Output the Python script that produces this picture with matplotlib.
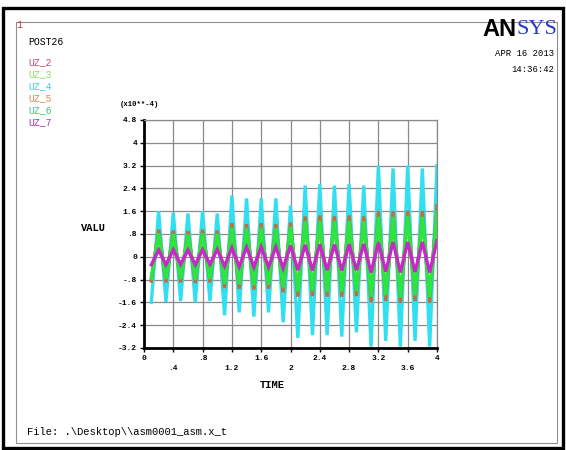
import matplotlib
matplotlib.use('Agg')
import matplotlib.pyplot as plt
from matplotlib.patches import Rectangle

# sample times (s)
time = [0.1, 0.2, 0.3, 0.4, 0.5, 0.6, 0.7, 0.8, 0.9, 1.0,
        1.1, 1.2, 1.3, 1.4, 1.5, 1.6, 1.7, 1.8, 1.9, 2.0,
        2.1, 2.2, 2.3, 2.4, 2.5, 2.6, 2.7, 2.8, 2.9, 3.0,
        3.1, 3.2, 3.3, 3.4, 3.5, 3.6, 3.7, 3.8, 3.9, 4.0]

# displacements, units of 1e-4
uz_2 = [-0.82, 0.92, -0.87, 0.89, -0.87, 0.87, -0.89, 0.92, -0.87, 0.89,
        -1.07, 1.14, -1.09, 1.12, -1.12, 1.14, -1.09, 1.12, -1.21, 1.16,
        -1.36, 1.38, -1.34, 1.41, -1.36, 1.38, -1.36, 1.41, -1.34, 1.38,
        -1.55, 1.55, -1.50, 1.55, -1.57, 1.57, -1.50, 1.55, -1.57, 1.75]
uz_3 = [-0.70, 0.76, -0.72, 0.74, -0.72, 0.72, -0.74, 0.76, -0.72, 0.74,
        -0.88, 0.94, -0.90, 0.92, -0.92, 0.94, -0.90, 0.92, -1.00, 0.97,
        -1.12, 1.15, -1.10, 1.16, -1.12, 1.15, -1.12, 1.16, -1.10, 1.15,
        -1.29, 1.29, -1.24, 1.29, -1.31, 1.31, -1.24, 1.29, -1.31, 1.45]
uz_4 = [-1.60, 1.60, -1.58, 1.55, -1.55, 1.52, -1.60, 1.60, -1.55, 1.52,
        -2.05, 2.15, -1.95, 2.05, -2.10, 2.05, -1.95, 2.05, -2.30, 1.80,
        -2.85, 2.50, -2.75, 2.55, -2.75, 2.50, -2.80, 2.55, -2.65, 2.50,
        -3.15, 3.20, -2.95, 3.10, -3.15, 3.20, -2.95, 3.10, -3.15, 3.20]
uz_5 = [-0.85, 0.95, -0.90, 0.92, -0.90, 0.90, -0.92, 0.95, -0.90, 0.92,
        -1.10, 1.18, -1.12, 1.15, -1.15, 1.18, -1.12, 1.15, -1.25, 1.20,
        -1.40, 1.42, -1.38, 1.45, -1.40, 1.42, -1.40, 1.45, -1.38, 1.42,
        -1.60, 1.60, -1.55, 1.60, -1.62, 1.62, -1.55, 1.60, -1.62, 1.80]
uz_6 = [-0.75, 0.82, -0.78, 0.80, -0.78, 0.78, -0.80, 0.82, -0.78, 0.80,
        -0.95, 1.02, -0.97, 1.00, -1.00, 1.02, -0.97, 1.00, -1.08, 1.05,
        -1.22, 1.25, -1.20, 1.26, -1.22, 1.25, -1.22, 1.26, -1.20, 1.25,
        -1.40, 1.40, -1.35, 1.40, -1.42, 1.42, -1.35, 1.40, -1.42, 1.58]
uz_7 = [-0.28, 0.24, -0.28, 0.25, -0.27, 0.24, -0.28, 0.25, -0.27, 0.26,
        -0.33, 0.32, -0.35, 0.34, -0.36, 0.35, -0.36, 0.35, -0.40, 0.40,
        -0.47, 0.42, -0.48, 0.44, -0.47, 0.43, -0.48, 0.44, -0.47, 0.45,
        -0.55, 0.50, -0.52, 0.52, -0.55, 0.52, -0.53, 0.52, -0.55, 0.58]

names = ['UZ_2', 'UZ_3', 'UZ_4', 'UZ_5', 'UZ_6', 'UZ_7']
series = [uz_2, uz_3, uz_4, uz_5, uz_6, uz_7]
line_colors = ['#c83c5a', '#90e850', '#30e0f0', '#c0703a', '#28e840', '#c828c8']
label_colors = ['#c84870', '#8ce05a', '#40d0e0', '#e08850', '#40c878', '#a830c0']

x_ticks = [0, 0.4, 0.8, 1.2, 1.6, 2.0, 2.4, 2.8, 3.2, 3.6, 4.0]
x_labels = ['0', '.4', '.8', '1.2', '1.6', '2', '2.4', '2.8', '3.2', '3.6', '4']
y_ticks = [-3.2, -2.4, -1.6, -0.8, 0, 0.8, 1.6, 2.4, 3.2, 4.0, 4.8]
y_labels = ['-3.2', '-2.4', '-1.6', '-.8', '0', '.8', '1.6', '2.4', '3.2', '4', '4.8']

W, H = 566, 450
MONO = 'Liberation Mono'


def fx(x):
    return x / W


def fy(y):
    return 1 - y / H


fig = plt.figure(figsize=(W / 100, H / 100), dpi=100)
fig.patch.set_facecolor('white')

# frames
fig.add_artist(Rectangle((fx(3), fy(448)), fx(560), 440 / H, transform=fig.transFigure,
                         fill=False, ec='black', lw=2.4))
fig.add_artist(Rectangle((fx(16), fy(443)), fx(541), 421 / H, transform=fig.transFigure,
                         fill=False, ec='#909090', lw=0.8))

ax = fig.add_axes([fx(144), fy(348), (437 - 144) / W, (348 - 120) / H])
for name, vals, c in zip(names, series, line_colors):
    ax.plot(time, vals, color=c, lw=2.4, solid_joinstyle='miter', label=name)

ax.set_xlim(0, 4)
ax.set_ylim(-3.2, 4.8)
ax.set_xticks(x_ticks)
ax.set_xticklabels([lab if i % 2 == 0 else '\n' + lab for i, lab in enumerate(x_labels)],
                   fontfamily=MONO, fontsize=5.8, fontweight='bold', linespacing=1.6)
ax.set_yticks(y_ticks)
ax.set_yticklabels(y_labels, fontfamily=MONO, fontsize=5.8, fontweight='bold')
ax.tick_params(direction='out', length=3, width=1, pad=2)
ax.grid(True, color='#8a8a8a', lw=0.9)
ax.set_axisbelow(True)
for side in ['left', 'bottom']:
    ax.spines[side].set_linewidth(2.0)
    ax.spines[side].set_color('black')
for side in ['top', 'right']:
    ax.spines[side].set_linewidth(0.9)
    ax.spines[side].set_color('#8a8a8a')

# header texts
fig.text(fx(19), fy(25), '1', color='#cc3333', fontsize=7, fontfamily=MONO, ha='center', va='center')
fig.text(fx(28), fy(42), 'POST26', fontsize=7, fontfamily=MONO, va='center')
for i, (name, c) in enumerate(zip(names, label_colors)):
    fig.text(fx(28), fy(62 + 12 * i), name, color=c, fontsize=7, fontfamily=MONO, va='center')
fig.text(fx(120), fy(105), '(x10**-4)', fontsize=5.2, fontfamily=MONO, fontweight='bold', va='center')

fig.text(fx(517), fy(30), 'AN', fontsize=17, fontfamily='Liberation Sans', fontweight='heavy',
         color='black', ha='right', va='center')
fig.text(fx(516), fy(30), 'SYS', fontsize=16, fontfamily='Liberation Serif',
         color='#2a3cc0', ha='left', va='center')
fig.text(fx(554), fy(54), 'APR 16 2013', fontsize=6.4, fontfamily=MONO, ha='right', va='center')
fig.text(fx(554), fy(70), '14:36:42', fontsize=6.4, fontfamily=MONO, ha='right', va='center')

fig.text(fx(93), fy(228), 'VALU', fontsize=7.5, fontfamily=MONO, fontweight='bold', ha='center', va='center')
fig.text(fx(272), fy(385), 'TIME', fontsize=7.5, fontfamily=MONO, fontweight='bold', ha='center', va='center')
fig.text(fx(27), fy(432), 'File: .\\Desktop\\\\asm0001_asm.x_t', fontsize=7.6,
         fontfamily=MONO, va='center')

fig.savefig('out.png', dpi=100)
